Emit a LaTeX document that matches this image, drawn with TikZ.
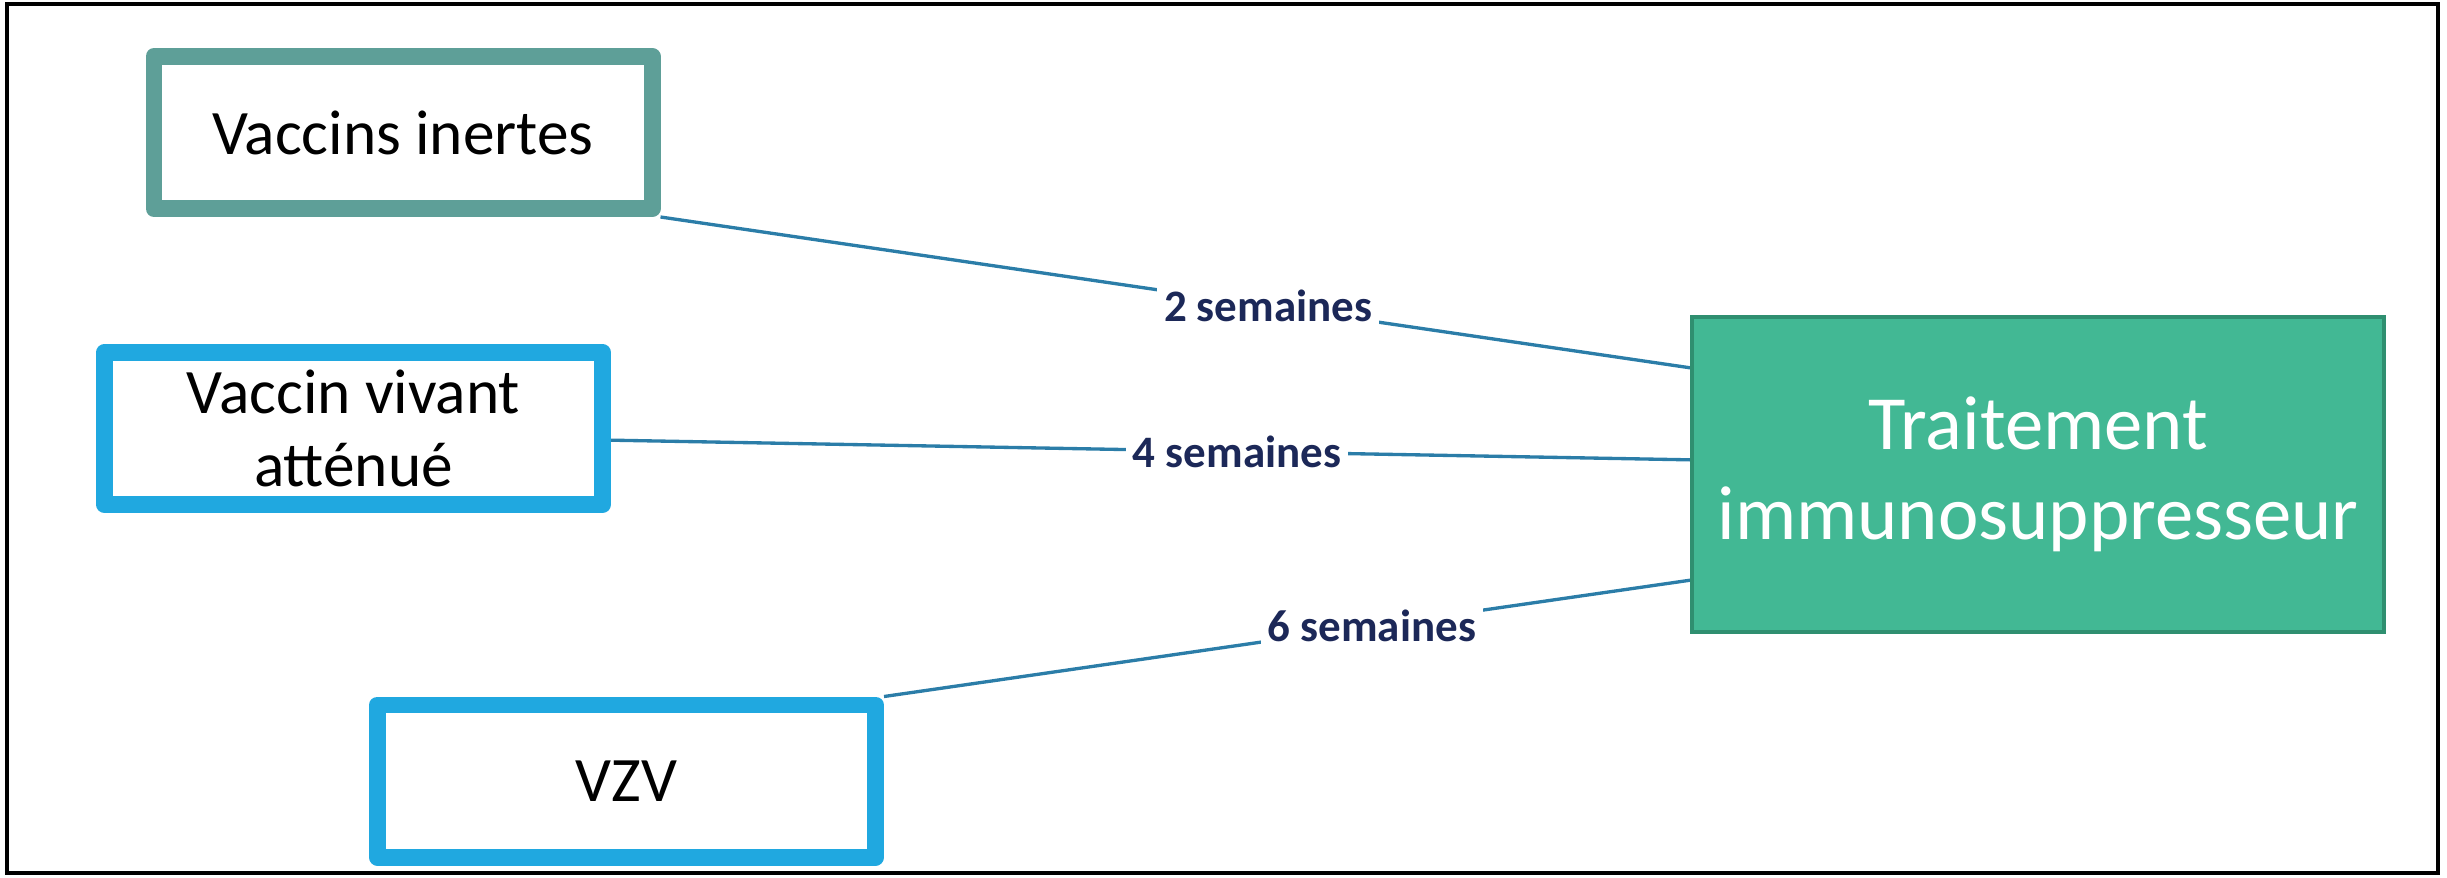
\documentclass[tikz,border=0pt]{standalone}
\usepackage{fontspec}
\setmainfont{Carlito}
\usetikzlibrary{backgrounds}
\definecolor{inertteal}{HTML}{5E9F98}
\definecolor{liveblue}{HTML}{20A8E0}
\definecolor{treatfill}{HTML}{42B894}
\definecolor{treatedge}{HTML}{2F8F70}
\definecolor{linkblue}{HTML}{2B7DA8}
\definecolor{labelnavy}{HTML}{1C2858}
\begin{document}
\begin{tikzpicture}[x=0.3pt,y=-0.3pt,
  vacbox/.style={draw, line width=5pt, line join=round, fill=white,
    minimum width=149.5pt, minimum height=45.7pt, inner sep=0pt, align=center,
    font=\fontsize{19}{22}\selectfont},
  treatbox/.style={draw=treatedge, fill=treatfill, line width=1pt,
    minimum width=207.6pt, minimum height=94.5pt, inner sep=0pt, text=white,
    align=center, font=\fontsize{23}{27}\selectfont},
  link/.style={draw=linkblue, line width=1pt},
  delay/.style={fill=white, text=labelnavy, inner sep=2pt,
    font=\bfseries\fontsize{13.5}{16}\selectfont}]
  % canvas and outer frame
  \useasboundingbox (0,0) rectangle (2447,877);
  \draw[line width=1pt, black] (7,4) rectangle (2438,873);

  % vaccine boxes
  \node[vacbox, draw=inertteal] (b1) at (403,132.5) {Vaccins inertes};
  \node[vacbox, draw=liveblue] (b2) at (353.5,428.5) {Vaccin vivant\\atténué};
  \node[vacbox, draw=liveblue] (b3) at (626.5,781) {VZV};

  % treatment box
  \node[treatbox] (t) at (2038,474.5) {Traitement\\immunosuppresseur};

  % delays before starting the treatment
  \begin{scope}[on background layer]
    \draw[link] (b1.south east) -- node[delay, pos=0.59] (l1) {2 semaines} ([yshift=32pt]t.west);
    \draw[link] ([yshift=-3.5pt]b2.east) -- node[delay, pos=0.58] (l2) {4 semaines} ([yshift=4.4pt]t.west);
    \draw[link] (b3.north east) -- node[delay, pos=0.605] (l3) {6 semaines} ([yshift=-31.7pt]t.west);
  \end{scope}
\end{tikzpicture}
\end{document}
